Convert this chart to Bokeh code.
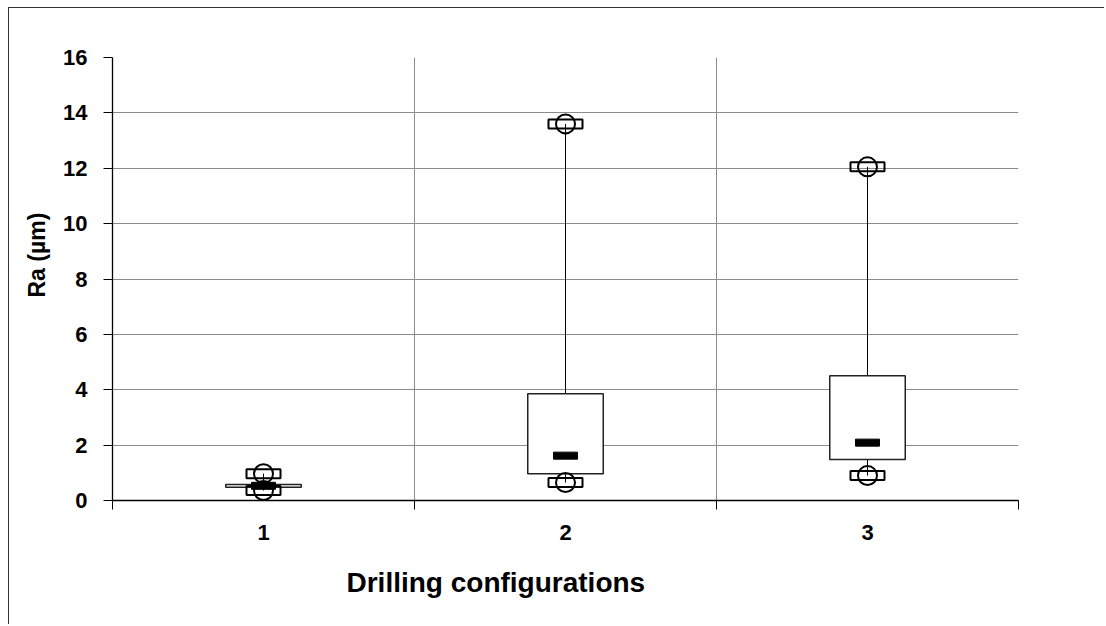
from bokeh.plotting import figure
from bokeh.models import FixedTicker, Range1d, Title, ColumnDataSource
from bokeh.embed import file_html
from bokeh.resources import INLINE

# ---- data ----
configs = [1, 2, 3]
tick_labels = ["1", "2", "3"]
q1 = [0.48, 0.97, 1.48]
q3 = [0.58, 3.86, 4.51]
median = [0.53, 1.62, 2.09]
minimum = [0.36, 0.65, 0.90]
maximum = [0.97, 13.60, 12.05]
y_ticks = [0, 2, 4, 6, 8, 10, 12, 14, 16]
x_title = "Drilling configurations"
y_title = "Ra (µm)"

FONT = "Liberation Sans"

p = figure(width=1096, height=617, output_backend="svg", toolbar_location=None,
           x_range=Range1d(0.5, 3.5), y_range=Range1d(0, 16),
           min_border_left=103, min_border_right=87, min_border_top=49, min_border_bottom=125,
           margin=(7, 0, 0, 8),
           styles={"border-top": "1px solid #333333", "border-left": "1px solid #333333"})
p.outline_line_color = None
p.background_fill_color = "white"
p.border_fill_color = "white"

# axes
p.yaxis.ticker = FixedTicker(ticks=y_ticks)
p.yaxis.major_tick_out = 9
p.yaxis.major_tick_in = 0
p.yaxis.minor_tick_line_color = None
p.yaxis.major_label_standoff = 16
p.yaxis.major_label_text_font = FONT
p.yaxis.major_label_text_font_style = "bold"
p.yaxis.major_label_text_font_size = "22px"
p.yaxis.major_label_text_color = "black"
p.yaxis.axis_line_color = "black"
p.yaxis.axis_line_width = 1.3
p.yaxis.major_tick_line_color = "black"

p.xaxis.ticker = FixedTicker(ticks=configs, minor_ticks=[0.5, 1.5, 2.5, 3.5])
p.xaxis.major_label_overrides = {c: t for c, t in zip(configs, tick_labels)}
p.xaxis.major_tick_out = 0
p.xaxis.major_tick_in = 0
p.xaxis.major_tick_line_color = None
p.xaxis.minor_tick_out = 9
p.xaxis.minor_tick_in = 0
p.xaxis.minor_tick_line_color = "black"
p.xaxis.major_label_standoff = 15
p.xaxis.major_label_text_font = FONT
p.xaxis.major_label_text_font_style = "bold"
p.xaxis.major_label_text_font_size = "22px"
p.xaxis.major_label_text_color = "black"
p.xaxis.axis_line_color = "black"
p.xaxis.axis_line_width = 1.3

# grids
p.ygrid.ticker = FixedTicker(ticks=y_ticks)
p.ygrid.grid_line_color = "#8c8c8c"
p.ygrid.grid_line_width = 1
p.xgrid.ticker = FixedTicker(ticks=[1.5, 2.5, 3.5])
p.xgrid.grid_line_color = "#8c8c8c"
p.xgrid.grid_line_width = 1

src = ColumnDataSource(dict(x=configs, q1=q1, q3=q3, med=median, lo=minimum, hi=maximum))

# whiskers
p.segment(x0="x", y0="q3", x1="x", y1="hi", source=src, line_color="black", line_width=1)
p.segment(x0="x", y0="lo", x1="x", y1="q1", source=src, line_color="black", line_width=1)
# boxes
p.vbar(x="x", bottom="q1", top="q3", width=0.25, source=src,
       fill_color="white", line_color="#222222", line_width=1.5)
# median marks
p.rect(x="x", y="med", width=24, height=7, width_units="screen", height_units="screen",
       source=src, fill_color="black", line_color="black")
# min / max markers
for col in ["hi", "lo"]:
    p.rect(x="x", y=col, width=34, height=9, width_units="screen", height_units="screen",
           source=src, fill_color=None, line_color="black", line_width=2)
    p.scatter(x="x", y=col, marker="circle", size=19, source=src,
              fill_color=None, line_color="black", line_width=2)

# axis titles
p.add_layout(Title(text=x_title, align="left", offset=234, standoff=49, vertical_align="top",
                   text_font=FONT, text_font_style="bold", text_font_size="28px",
                   text_color="black"), "below")
p.add_layout(Title(text=y_title, align="left", offset=203, standoff=22,
                   text_font=FONT, text_font_style="bold", text_font_size="23px",
                   text_color="black"), "left")

open("out.html", "w").write(file_html(p, INLINE))
